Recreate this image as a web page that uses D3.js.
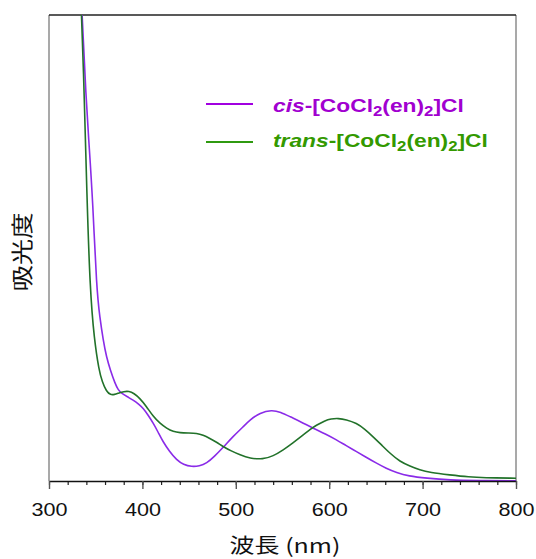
<!DOCTYPE html>
<html>
<head>
<meta charset="utf-8">
<script src="https://cdn.jsdelivr.net/npm/d3@7"></script>
<style>
  body { margin: 0; background: #fff; }
  svg { display: block; font-family: "Liberation Sans", Arial, sans-serif; }
</style>
</head>
<body>
<svg class="chart_svg"></svg>
<script>
// wavelengths (nm) and absorbance
var cisWavelength = [330, 335.5, 339.6, 343, 346.8, 351, 354.5, 358, 361.5, 366, 370.7, 374, 377.8, 384, 390, 396, 401, 406, 411.7, 417, 422, 429, 436.7, 444, 452.8, 461, 468.8, 477, 486.6, 497, 508, 515, 526, 538.4, 548, 558, 570, 583, 596, 608, 618, 629.4, 640, 650.8, 661, 672, 685, 704, 729, 760, 800];
var cisAbsorbance = [2.45, 2.0, 1.644, 1.438, 1.206, 0.82, 0.7, 0.605, 0.532, 0.472, 0.419, 0.391, 0.376, 0.361, 0.348, 0.33, 0.312, 0.283, 0.248, 0.208, 0.169, 0.127, 0.09, 0.07, 0.061, 0.064, 0.076, 0.105, 0.145, 0.191, 0.233, 0.262, 0.293, 0.305, 0.296, 0.276, 0.253, 0.226, 0.202, 0.176, 0.152, 0.126, 0.101, 0.076, 0.054, 0.036, 0.021, 0.012, 0.004, 0.002, 0.001];

var transWavelength = [330, 335, 337.8, 340.4, 343.9, 348.5, 353.5, 357, 361.5, 366, 370, 375, 380, 385.6, 391, 397, 404, 411.7, 419, 426, 433, 440, 450, 458, 465, 472, 480, 486.6, 495, 504.5, 515, 529, 540, 550.8, 561, 572, 580, 586.6, 595, 602, 609.7, 618, 629.4, 638, 647, 656, 665, 675.8, 686.5, 697, 708, 729, 750, 765, 800];
var transAbsorbance = [2.45, 2.0, 1.644, 1.249, 0.82, 0.605, 0.476, 0.425, 0.384, 0.369, 0.371, 0.378, 0.384, 0.386, 0.376, 0.356, 0.322, 0.276, 0.247, 0.226, 0.212, 0.207, 0.206, 0.205, 0.197, 0.183, 0.165, 0.147, 0.129, 0.112, 0.097, 0.093, 0.107, 0.133, 0.163, 0.197, 0.223, 0.24, 0.258, 0.267, 0.269, 0.264, 0.248, 0.223, 0.19, 0.155, 0.119, 0.083, 0.064, 0.047, 0.036, 0.026, 0.017, 0.014, 0.012];

var xMajorTicks = [300, 400, 500, 600, 700, 800];
var xMinorTicks = d3.range(300, 801, 20);
var legendPrefix = ["cis", "trans"];
var xTitle = "波長 (nm)";
var yTitle = "吸光度";

var W = 536, H = 559;
var margin = { top: 15, right: 20, bottom: 78, left: 49 };
var w = W - margin.left - margin.right,
  h = H - margin.top - margin.bottom;

var svg = d3.select(".chart_svg").attr("width", W).attr("height", H);

svg.append("defs").append("clipPath").attr("id", "plotClip")
  .append("rect").attr("x", 0).attr("y", 0).attr("width", w).attr("height", h);

var g = svg.append("g").attr("transform", `translate(${margin.left}, ${margin.top})`);

const x_scale = d3.scaleLinear().domain([300, 800]).range([0, w]);
const y_scale = d3.scaleLinear().domain([0, 2]).range([h, 0]);

// frame: grey sides, dark top
g.append("line").attr("x1", 0).attr("x2", 0).attr("y1", 0).attr("y2", h)
  .attr("stroke", "#8c8c8c").attr("stroke-width", 1.5);
g.append("line").attr("x1", w).attr("x2", w).attr("y1", 0).attr("y2", h)
  .attr("stroke", "#8c8c8c").attr("stroke-width", 1.5);
g.append("line").attr("x1", 0).attr("x2", w).attr("y1", 0).attr("y2", 0)
  .attr("stroke", "#222").attr("stroke-width", 1.5);

// curves
var line = d3.line()
  .x((d) => x_scale(d[0]))
  .y((d) => y_scale(d[1]))
  .curve(d3.curveBasis);

var series = [
  { wl: cisWavelength, ab: cisAbsorbance, color: "#8a2be8" },
  { wl: transWavelength, ab: transAbsorbance, color: "#22722a" }
];

g.append("g").attr("clip-path", "url(#plotClip)")
  .selectAll("path")
  .data(series)
  .join("path")
  .attr("fill", "none")
  .attr("stroke", (d) => d.color)
  .attr("stroke-width", 1.6)
  .attr("d", (d) => line(d.wl.map((v, i) => [v, d.ab[i]])));

// x axis
var minorAxis = g.append("g")
  .attr("transform", `translate(0, ${h})`)
  .call(d3.axisBottom(x_scale).tickValues(xMinorTicks).tickSize(4).tickFormat(""));
minorAxis.select(".domain").remove();
minorAxis.selectAll("line").attr("stroke", "#222").attr("stroke-width", 1.2);

var majorAxis = g.append("g")
  .attr("transform", `translate(0, ${h})`)
  .call(d3.axisBottom(x_scale).tickValues(xMajorTicks).tickSize(8).tickSizeOuter(0).tickPadding(14));
majorAxis.select(".domain").attr("stroke", "#111").attr("stroke-width", 1.6);
majorAxis.selectAll("line").attr("stroke", "#555").attr("stroke-width", 1.4);
majorAxis.selectAll("text")
  .attr("font-size", 18)
  .attr("fill", "#111")
  .attr("transform", "scale(1.2,1)")
  .attr("font-family", "'Liberation Sans', Arial, sans-serif");

// axis titles
svg.append("text")
  .attr("transform", "translate(285, 553) scale(1.25,1)")
  .attr("text-anchor", "middle")
  .attr("font-size", 20)
  .attr("font-family", "'Noto Sans CJK JP', sans-serif")
  .attr("fill", "#111")
  .text(xTitle);

svg.append("text")
  .attr("transform", "translate(30, 252) rotate(-90) scale(1.1,0.9)")
  .attr("text-anchor", "middle")
  .attr("font-size", 24)
  .attr("font-family", "'Noto Sans CJK JP', sans-serif")
  .attr("fill", "#111")
  .text(yTitle);

// legend
var legendColors = [
  { line: "#a100e0", text: "#a100d0" },
  { line: "#2f9a10", text: "#339900" }
];
var legendY = [104, 142];
var legendBase = [112, 147];

legendPrefix.forEach(function (p, i) {
  svg.append("line")
    .attr("x1", 206).attr("x2", 253)
    .attr("y1", legendY[i]).attr("y2", legendY[i])
    .attr("stroke", legendColors[i].line).attr("stroke-width", 2);

  var t = svg.append("text")
    .attr("transform", `translate(273, ${legendBase[i]}) scale(1.2,1)`)
    .attr("font-size", 19)
    .attr("font-weight", "bold")
    .attr("fill", legendColors[i].text);
  t.append("tspan").attr("font-style", "italic").text(p);
  t.append("tspan").text("-[CoCl");
  t.append("tspan").attr("font-size", 14).attr("dy", 4).text("2");
  t.append("tspan").attr("dy", -4).text("(en)");
  t.append("tspan").attr("font-size", 14).attr("dy", 4).text("2");
  t.append("tspan").attr("dy", -4).text("]Cl");
});
</script>
</body>
</html>
